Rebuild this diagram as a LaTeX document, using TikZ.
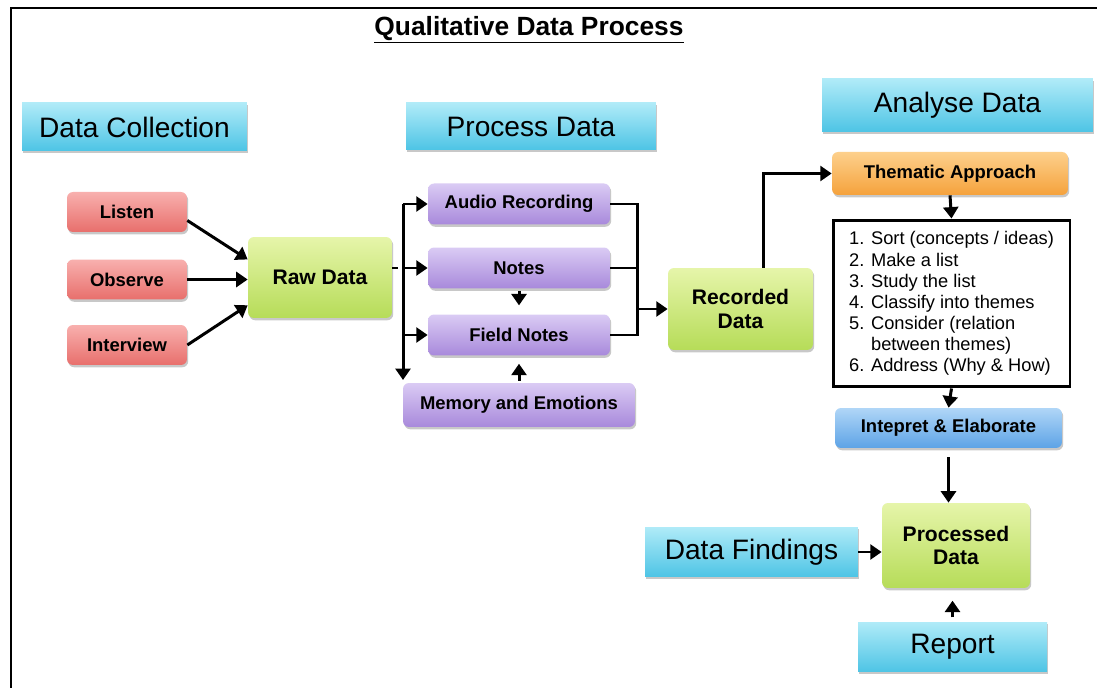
\documentclass[tikz,border=0pt]{standalone}
\usepackage{fontspec}
\setmainfont{Liberation Sans}
\usetikzlibrary{arrows.meta,shadows}

\definecolor{cyantop}{HTML}{B0EBF8}
\definecolor{cyanbot}{HTML}{4DC4E5}
\definecolor{redtop}{HTML}{F8B0AE}
\definecolor{redbot}{HTML}{E86F6C}
\definecolor{greentop}{HTML}{E6F5AA}
\definecolor{greenbot}{HTML}{B6DC58}
\definecolor{purpletop}{HTML}{DACBF4}
\definecolor{purplebot}{HTML}{A889DB}
\definecolor{orangetop}{HTML}{FDD08C}
\definecolor{orangebot}{HTML}{F5A23C}
\definecolor{bluetop}{HTML}{B0D6F7}
\definecolor{bluebot}{HTML}{5DA3E6}

\tikzset{
  softshadow/.style={drop shadow={shadow xshift=0.7pt, shadow yshift=-1.3pt, opacity=0.3, fill=black!70}},
  heading/.style={softshadow, top color=cyantop, bottom color=cyanbot, inner sep=0pt,
    font=\fontsize{16}{18}\selectfont},
  box/.style={softshadow, rounded corners=0.12cm, inner sep=0pt,
    font=\bfseries\fontsize{10.5}{12}\selectfont},
  redbox/.style={box, top color=redtop, bottom color=redbot, minimum width=2.4cm, minimum height=0.8cm},
  greenbox/.style={box, top color=greentop, bottom color=greenbot, align=center,
    font=\bfseries\fontsize{12}{13.5}\selectfont},
  purplebox/.style={box, top color=purpletop, bottom color=purplebot, minimum width=3.64cm, minimum height=0.82cm},
  orangebox/.style={box, top color=orangetop, bottom color=orangebot, minimum width=4.72cm, minimum height=0.86cm},
  bluebox/.style={box, top color=bluetop, bottom color=bluebot, minimum width=4.54cm, minimum height=0.8cm},
  listbox/.style={draw, line width=1.7pt, fill=white, inner sep=0pt, align=left,
    minimum width=4.74cm, minimum height=3.34cm, font=\fontsize{10.4}{12}\selectfont},
  wire/.style={line width=1.7pt},
  flow/.style={wire, -{Triangle[length=6.5pt,width=8.5pt]}},
}

\begin{document}
\begin{tikzpicture}[x=0.02cm, y=-0.02cm]

	\useasboundingbox (0,0) rectangle (1097,688);
	\fill[white] (0,0) rectangle (1097,688);
	\draw[line width=1.3pt] (1100,8) -- (11,8) -- (11,692);

	\node (Title) at (529,30) {\fontsize{15}{17}\selectfont\bfseries\underline{Qualitative Data Process}};

	% section headings
	\node (DC)[heading, minimum width=4.5cm, minimum height=0.96cm] at (134.5,127) {Data Collection};
	\node (PH)[heading, minimum width=5cm, minimum height=0.94cm] at (531,126.5) {Process Data};
	\node (AD)[heading, minimum width=5.42cm, minimum height=1.06cm] at (957.5,105.5) {Analyse Data};

	\node (L1)[redbox] at (127,212) {Listen};
	\node (L2)[redbox] at (127,279.5) {Observe};
	\node (L3)[redbox] at (127,345) {Interview};
	\node (RD)[greenbox, minimum width=2.88cm, minimum height=1.62cm] at (320,277.5) {Raw Data};

	\node (P1)[purplebox] at (519,204) {Audio Recording};
	\node (P2)[purplebox] at (519,268) {Notes};
	\node (P3)[purplebox] at (519,335) {Field Notes};
	\node (P4)[purplebox, minimum width=4.64cm, minimum height=0.88cm] at (519,405) {Memory and Emotions};

	\node (RC)[greenbox, minimum width=2.9cm, minimum height=1.64cm] at (740.5,309) {Recorded\\Data};

	\node (TA)[orangebox] at (950,173.5) {Thematic Approach};
	\node (LB)[listbox] at (951.5,303.5) {1. Sort (concepts / ideas)\\ 2. Make a list\\ 3. Study the list\\
		4. Classify into themes\\ 5. Consider (relation\\ \phantom{5. }between themes)\\ 6. Address (Why \& How)};
	\node (IE)[bluebox] at (948.5,428) {Intepret \& Elaborate};

	\node (PR)[greenbox, minimum width=2.96cm, minimum height=1.7cm] at (956,545.5) {Processed\\Data};
	\node (DF)[heading, minimum width=4.26cm, minimum height=1cm] at (751.5,552) {Data Findings};
	\node (RP)[heading, minimum width=3.78cm, minimum height=1cm] at (952.5,647) {Report};

	% bus lines either side of the purple boxes
	\coordinate (BL) at (403,204);
	\coordinate (BE) at (403,380);
	\coordinate (BR) at (637,204);

	\draw [flow] (L1.-8) to (RD.166);
	\draw [flow] (L2.east) to (L2.east -| RD.west);
	\draw [flow] (L3.east) to (RD.201);

	\draw [wire, dash pattern=on 3.4pt off 3pt] (RD.east |- P2.west) to (P2.west -| BL);
	\draw [flow] (BL) to (BE);
	\draw [flow] (BL) to (P1.west);
	\draw [flow] (P2.west -| BL) to (P2.west);
	\draw [flow] (P3.west -| BL) to (P3.west);
	\draw [flow, shorten <=1pt, shorten >=5pt] (P2.south) to (P3.north);
	\draw [flow, shorten <=1pt, shorten >=4.5pt] (P4.north) to (P3.south);

	\draw [wire] (P1.east) -- (BR) -- (P3.east -| BR) -- (P3.east);
	\draw [wire] (P2.east) -- (P2.east -| BR);
	\draw [flow] (RC.west -| BR) to (RC.west);

	\draw [flow] (RC.61) |- (TA.west);
	\draw [flow] (TA.south) to (LB.north);
	\draw [flow] (LB.south) to (IE.north);
	\draw [flow, shorten <=5pt] (IE.south) to (IE.south |- PR.north);
	\draw [flow] (DF.east) to (DF.east -| PR.west);
	\draw [flow, shorten <=2.5pt, shorten >=7pt] (RP.north) to (RP.north |- PR.south);

\end{tikzpicture}
\end{document}
